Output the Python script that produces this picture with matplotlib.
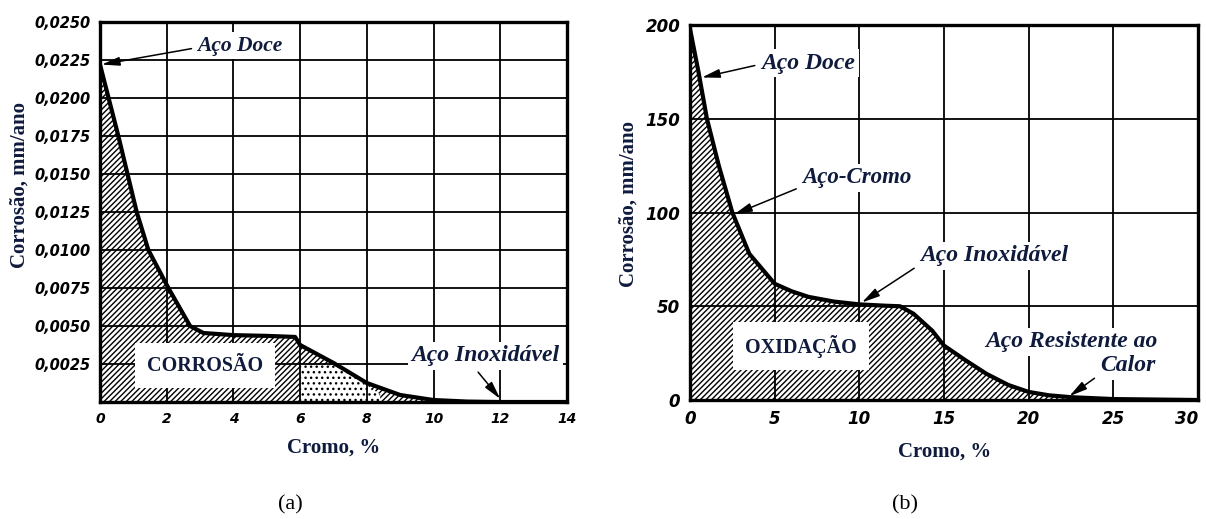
import numpy as np
import matplotlib.pyplot as plt

plt.rcParams['hatch.linewidth'] = 1.0

# (a) corrosão x cromo
cromo_a = [0, 0.55, 1.1, 1.45, 2.05, 2.7, 3.1, 4.0, 5.0, 5.85, 6.0, 7.0, 8.0, 9.0, 10.0, 11.0, 12.0, 14.0]
corr_a = [0.0222, 0.0175, 0.0125, 0.0100, 0.0075, 0.0050, 0.00454, 0.0044, 0.00435, 0.00428,
          0.00375, 0.00257, 0.00125, 0.00046, 0.00013, 0.00003, 0.0, 0.0]
# zona pontilhada (transição)
pont_cromo = [6.0, 7.0, 7.6, 8.0, 8.4]
pont_topo = [0.0025, 0.0024, 0.0018, 0.0011, 0.0005]
xticks_a = [0, 2, 4, 6, 8, 10, 12, 14]
yticks_a = [0.0025, 0.0050, 0.0075, 0.0100, 0.0125, 0.0150, 0.0175, 0.0200, 0.0225, 0.0250]
ylabels_a = ['0,0025', '0,0050', '0,0075', '0,0100', '0,0125', '0,0150', '0,0175', '0,0200', '0,0225', '0,0250']

# (b) oxidação x cromo
cromo_b = [0, 0.5, 1.0, 1.7, 2.5, 3.5, 5, 6, 7, 8.5, 10, 11.5, 12.4, 13.2, 14.3, 15, 16.3,
           17.5, 18.8, 20, 21.2, 22.5, 25, 30]
oxid_b = [198, 175, 150, 125, 100, 78, 62, 58, 55, 52.5, 51, 50.3, 50, 46, 37, 29, 21,
          14, 8, 4.3, 2.5, 1.5, 0.5, 0]
xticks_b = [0, 5, 10, 15, 20, 25, 30]
yticks_b = [0, 50, 100, 150, 200]

W, H = 1206, 519
fig = plt.figure(figsize=(W / 100, H / 100), dpi=100)


def eixo(l, r, t, b):
    return fig.add_axes([l / W, 1 - b / H, (r - l) / W, (b - t) / H])


serif = 'Liberation Serif'
azul = '#0f1a3c'
tick_font = dict(family='DejaVu Sans', style='oblique', weight='bold')
caixa = dict(boxstyle='square,pad=0.15', fc='white', ec='none')
seta = dict(arrowstyle='-|>,head_length=0.9,head_width=0.22', color='black', lw=1.1,
            mutation_scale=12, shrinkA=2, shrinkB=0)


def estilo(ax):
    ax.grid(True, color='black', lw=1.3)
    for s in ax.spines.values():
        s.set_linewidth(2.4)
    ax.tick_params(length=0, pad=7)


# ---------- (a) ----------
ax = eixo(100, 567, 22, 402)
ax.set_xlim(0, 14)
ax.set_ylim(0, 0.025)
ax.set_xticks(xticks_a)
ax.set_xticklabels([str(v) for v in xticks_a], fontsize=10, **tick_font)
ax.set_yticks([0] + yticks_a)
ax.set_yticklabels([''] + ylabels_a, fontsize=10.5, **tick_font)
estilo(ax)
ax.fill_between(cromo_a, corr_a, 0, facecolor='none', edgecolor='black', hatch='//////', lw=0)
ax.fill_between(pont_cromo, pont_topo, 0, facecolor='white', edgecolor='black', hatch='...', lw=0, zorder=1.2)
ax.plot(cromo_a, corr_a, color='black', lw=3, solid_capstyle='round')
ax.text(3.15, 0.0024, 'CORROSÃO', family=serif, weight='bold', fontsize=14.5, color=azul,
        ha='center', va='center', zorder=5,
        bbox=dict(boxstyle='square,pad=0.6', fc='white', ec='none'))
ax.annotate('Aço Doce', xy=(0.05, 0.0222), xytext=(4.2, 0.02345), family=serif, style='italic',
            weight='bold', fontsize=15.5, color=azul, ha='center', va='center', zorder=5,
            bbox=caixa, arrowprops=dict(seta, relpos=(0, 0.4)))
ax.annotate('Aço Inoxidável', xy=(12.0, 0.0002), xytext=(11.55, 0.00303), family=serif, style='italic',
            weight='bold', fontsize=17, color=azul, ha='center', va='center', zorder=5,
            bbox=caixa, arrowprops=dict(seta, relpos=(0.42, 0)))

# ---------- (b) ----------
bx = eixo(690, 1198, 25, 400)
bx.set_xlim(0, 30)
bx.set_ylim(0, 200)
bx.set_xticks(xticks_b)
bx.set_xticklabels([str(v) for v in xticks_b], fontsize=12, **tick_font)
bx.get_xticklabels()[-1].set_ha('right')
bx.set_yticks(yticks_b)
bx.set_yticklabels([str(v) for v in yticks_b], fontsize=12, **tick_font)
estilo(bx)
bx.fill_between(cromo_b, oxid_b, 0, facecolor='none', edgecolor='black', hatch='//////', lw=0)
bx.plot(cromo_b, oxid_b, color='black', lw=3, solid_capstyle='round')
bx.text(6.55, 28.8, 'OXIDAÇÃO', family=serif, weight='bold', fontsize=14.5, color=azul,
        ha='center', va='center', zorder=5,
        bbox=dict(boxstyle='square,pad=0.6', fc='white', ec='none'))
rot = dict(family=serif, style='italic', weight='bold', fontsize=17, color=azul, zorder=5, bbox=caixa)
bx.annotate('Aço Doce', xy=(0.7, 172), xytext=(6.97, 179.7), ha='center', va='center',
            arrowprops=dict(seta, relpos=(0, 0.45)), **rot)
bx.annotate('Aço-Cromo', xy=(2.6, 99), xytext=(9.86, 118.4), ha='center', va='center',
            arrowprops=dict(seta, relpos=(0, 0.1)), **dict(rot, fontsize=16.5))
bx.annotate('Aço Inoxidável', xy=(10.15, 52), xytext=(17.96, 76.8), ha='center', va='center',
            arrowprops=dict(seta, relpos=(0, 0.1)), **rot)
bx.text(27.6, 31, 'Aço Resistente ao', ha='right', va='center', **rot)
bx.annotate('Calor', xy=(22.4, 2), xytext=(27.5, 18.3), ha='right', va='center',
            arrowprops=dict(seta, relpos=(0.0, 0.1)), **rot)

# rótulos
rot_eixo = dict(family=serif, weight='bold', fontsize=15, color=azul, ha='center', va='center')
fig.text(20 / W, 1 - 185 / H, 'Corrosão, mm/ano', rotation=90, **rot_eixo)
fig.text(629 / W, 1 - 204 / H, 'Corrosão, mm/ano', rotation=90, **rot_eixo)
fig.text(334 / W, 1 - 448 / H, 'Cromo, %', **rot_eixo)
fig.text(945 / W, 1 - 452 / H, 'Cromo, %', **rot_eixo)
fig.text(290 / W, 1 - 505 / H, '(a)', family=serif, fontsize=16, ha='center', va='center')
fig.text(905 / W, 1 - 505 / H, '(b)', family=serif, fontsize=16, ha='center', va='center')

fig.savefig('out.png', dpi=100)
